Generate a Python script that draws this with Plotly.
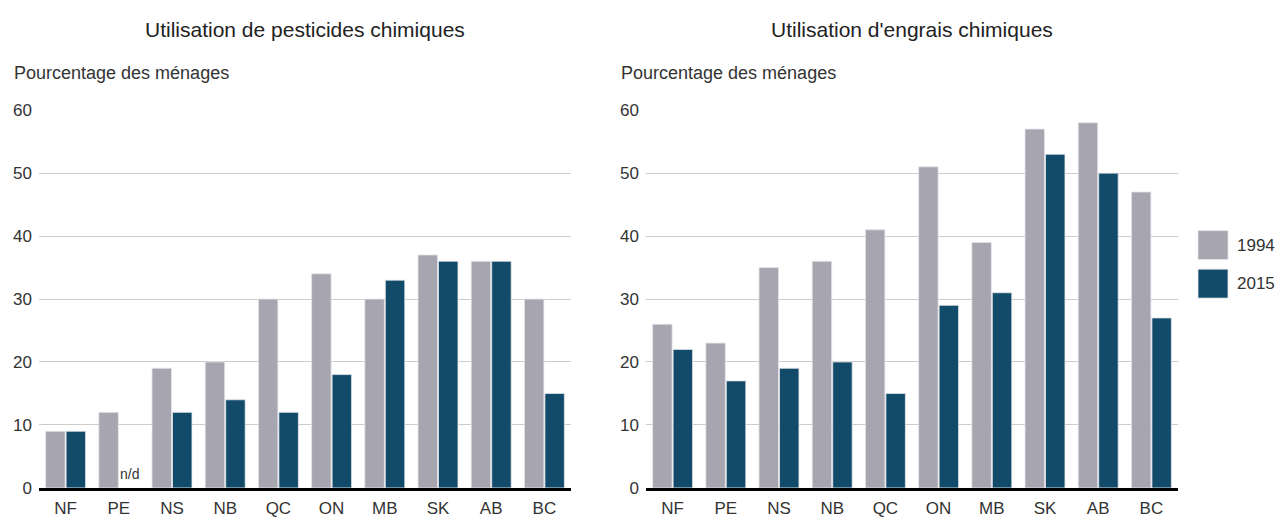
import plotly.graph_objects as go

provinces = ["NF", "PE", "NS", "NB", "QC", "ON", "MB", "SK", "AB", "BC"]
years = ["1994", "2015"]
pesticides_1994 = [9, 12, 19, 20, 30, 34, 30, 37, 36, 30]
pesticides_2015 = [9, None, 12, 14, 12, 18, 33, 36, 36, 15]
fertilizers_1994 = [26, 23, 35, 36, 41, 51, 39, 57, 58, 47]
fertilizers_2015 = [22, 17, 19, 20, 15, 29, 31, 53, 50, 27]
y_ticks = [0, 10, 20, 30, 40, 50, 60]

title_left = "Utilisation de pesticides chimiques"
title_right = "Utilisation d'engrais chimiques"
y_label = "Pourcentage des ménages"
missing_label = "n/d"

GRAY = "#a6a5b0"
TEAL = "#114b69"
EDGE = "#e4e4ea"
FONT = "Liberation Sans, Arial, sans-serif"
W, H = 1285, 522


def px_x(x):
    return x / W


def px_y(y):
    return (H - y) / H


fig = go.Figure()
for xa, ya, s1, s2 in [("x", "y", pesticides_1994, pesticides_2015),
                       ("x2", "y2", fertilizers_1994, fertilizers_2015)]:
    fig.add_trace(go.Bar(x=provinces, y=s1, name=years[0], xaxis=xa, yaxis=ya,
                         marker=dict(color=GRAY, line=dict(color=EDGE, width=0.8)),
                         showlegend=False))
    fig.add_trace(go.Bar(x=provinces, y=s2, name=years[1], xaxis=xa, yaxis=ya,
                         marker=dict(color=TEAL, line=dict(color=EDGE, width=0.8)),
                         showlegend=False))

ydom = [px_y(497), px_y(105)]
xdom1 = [px_x(39), px_x(571)]
xdom2 = [px_x(646), px_x(1178)]

axis_font = dict(family=FONT, size=17, color="#333333")
xcommon = dict(type="category", showgrid=False, ticks="", tickfont=axis_font,
               showline=True, linecolor="#000000", linewidth=3, layer="above traces",
               zeroline=False, fixedrange=True, ticklabelstandoff=3)
ycommon = dict(range=[0, 60], tickvals=y_ticks, showgrid=True, gridcolor="#cccccc",
               gridwidth=1, zeroline=False, showline=False, ticks="",
               tickfont=axis_font, fixedrange=True, domain=ydom, ticklabelstandoff=6)

fig.update_layout(
    width=W, height=H,
    margin=dict(l=0, r=0, t=0, b=0),
    paper_bgcolor="white", plot_bgcolor="white",
    barmode="group", bargap=0.23, bargroupgap=0.05,
    font=dict(family=FONT, color="#333333"),
    xaxis=dict(domain=xdom1, anchor="y", **xcommon),
    yaxis=dict(anchor="x", **ycommon),
    xaxis2=dict(domain=xdom2, anchor="y2", **xcommon),
    yaxis2=dict(anchor="x2", **ycommon),
    showlegend=False,
)

annotations = []
# Titles
for txt, dom in [(title_left, xdom1), (title_right, xdom2)]:
    annotations.append(dict(text=txt, xref="paper", yref="paper",
                            x=(dom[0] + dom[1]) / 2, y=px_y(21),
                            xanchor="center", yanchor="middle", showarrow=False,
                            font=dict(family=FONT, size=21, color="#222222")))
# Y-axis labels
for xpx in [12, 619]:
    annotations.append(dict(text=y_label, xref="paper", yref="paper",
                            x=px_x(xpx), y=px_y(66), xanchor="left", yanchor="middle",
                            showarrow=False,
                            font=dict(family=FONT, size=18, color="#333333")))
# n/d marker
annotations.append(dict(text=missing_label, xref="x", yref="y", x=provinces[1], y=0,
                        xshift=11, yshift=4, xanchor="center", yanchor="bottom",
                        showarrow=False, font=dict(family=FONT, size=14, color="#333333")))

# Legend (swatches + labels)
shapes = []
for i, (yr, col) in enumerate(zip(years, [GRAY, TEAL])):
    top = 230 + i * 40
    shapes.append(dict(type="rect", xref="paper", yref="paper",
                       x0=px_x(1198), x1=px_x(1228), y0=px_y(top + 30), y1=px_y(top),
                       fillcolor=col, line=dict(color=EDGE, width=0.8)))
    annotations.append(dict(text=yr, xref="paper", yref="paper",
                            x=px_x(1235), y=px_y(top + 15), xanchor="left", yanchor="middle",
                            showarrow=False, font=dict(family=FONT, size=17, color="#333333")))

fig.update_layout(annotations=annotations, shapes=shapes)
fig.write_html("out.html",
               config={"displayModeBar": False, "staticPlot": False},
               post_script="document.body.style.margin='0px';"
                           "document.body.style.overflow='hidden';")
